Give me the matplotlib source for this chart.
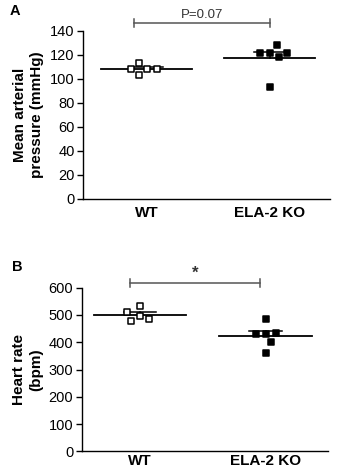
import numpy as np
import matplotlib.pyplot as plt

plt.rcParams['font.family'] = ['Liberation Sans', 'DejaVu Sans']

# data
groups = ["WT", "ELA-2 KO"]
map_wt = [108, 103, 113, 108, 108]
map_ko = [122, 122, 128, 93, 118, 122]
hr_wt = [497, 478, 534, 485, 510]
hr_ko = [430, 485, 432, 400, 362, 433]


def swarm_offsets(vals, px_per_unit_y, px_per_unit_x, d=10.0):
    # beeswarm: each point goes to the free spot nearest the centre
    placed = []
    out = []
    for v in vals:
        y = v * px_per_unit_y
        cands = [0.0]
        for px, py in placed:
            dy = abs(y - py)
            if dy < d:
                dx = np.sqrt(d * d - dy * dy)
                cands += [px - dx, px + dx]
        cands = sorted(cands, key=lambda c: (round(abs(c), 3), c))
        for c in cands:
            if all((c - px) ** 2 + (y - py) ** 2 >= d * d - 1e-6 for px, py in placed):
                break
        placed.append((c, y))
        out.append(c / px_per_unit_x)
    return np.array(out)


def panel(ax, series, ylim, yticks, ylabel, xlim, bracket, sig_text, sig_size, ypx, xpad):
    xpx = ax.get_position().width * 341 / (xlim[1] - xlim[0])
    for i, vals in enumerate(series):
        vals = np.array(vals, dtype=float)
        m = vals.mean()
        sem = vals.std(ddof=1) / np.sqrt(len(vals))
        ax.plot([i - 0.37, i + 0.37], [m, m], color='black', lw=1.3, zorder=2)
        ax.plot([i, i], [m, m + sem], color='black', lw=1.1, zorder=2)
        ax.plot([i - 0.13, i + 0.13], [m + sem, m + sem], color='black', lw=1.1, zorder=2)
        offs = swarm_offsets(vals, ypx, xpx)
        face = 'white' if i == 0 else 'black'
        ax.scatter(i + offs, vals, marker='s', s=19, facecolor=face,
                   edgecolor='black', linewidth=1.1, zorder=3)
    ax.set_xlim(*xlim)
    ax.set_ylim(*ylim)
    ax.set_yticks(yticks)
    ax.set_xticks([0, 1])
    ax.set_xticklabels(groups, fontsize=11, fontweight='bold')
    ax.tick_params(axis='x', length=0, pad=xpad)
    ax.tick_params(axis='y', length=4, width=1, labelsize=10.5, pad=2)
    ax.set_ylabel(ylabel, fontsize=11, fontweight='bold', linespacing=1.3, labelpad=4)
    for s in ['top', 'right']:
        ax.spines[s].set_visible(False)
    for s in ['left', 'bottom']:
        ax.spines[s].set_linewidth(1)
    # significance bracket
    x0, x1, yb = bracket
    tick = 4 / ypx
    ax.plot([x0, x1], [yb, yb], color='#555555', lw=1.1, clip_on=False)
    ax.plot([x0, x0], [yb - tick, yb + tick], color='#555555', lw=1.1, clip_on=False)
    ax.plot([x1, x1], [yb - tick, yb + tick], color='#555555', lw=1.1, clip_on=False)
    ax.text((x0 + x1) / 2, yb + 2 / ypx, sig_text, ha='center', va='bottom',
            fontsize=sig_size, color='#333333', clip_on=False,
            fontweight='bold' if sig_text == '*' else 'normal')


fig = plt.figure(figsize=(3.41, 4.74), dpi=100)
ax1 = fig.add_axes([0.2434, 0.5802, 0.724, 0.3544])
ax2 = fig.add_axes([0.2396, 0.0479, 0.722, 0.3451])

panel(ax1, [map_wt, map_ko], (0, 140), np.arange(0, 141, 20),
      "Mean arterial\npressure (mmHg)", (-0.52, 1.488), (-0.105, 1.0, 147),
      "P=0.07", 9.5, 168 / 140, 5)
panel(ax2, [hr_wt, hr_ko], (0, 600), np.arange(0, 601, 100),
      "Heart rate\n(bpm)", (-0.464, 1.496), (-0.08, 0.955, 617),
      "*", 12, 163.6 / 600, 2)

fig.text(10 / 341, 1 - 15 / 474, "A", fontsize=10.5, fontweight='bold')
fig.text(12 / 341, 1 - 271 / 474, "B", fontsize=10.5, fontweight='bold')

fig.savefig("out.png", dpi=100)
